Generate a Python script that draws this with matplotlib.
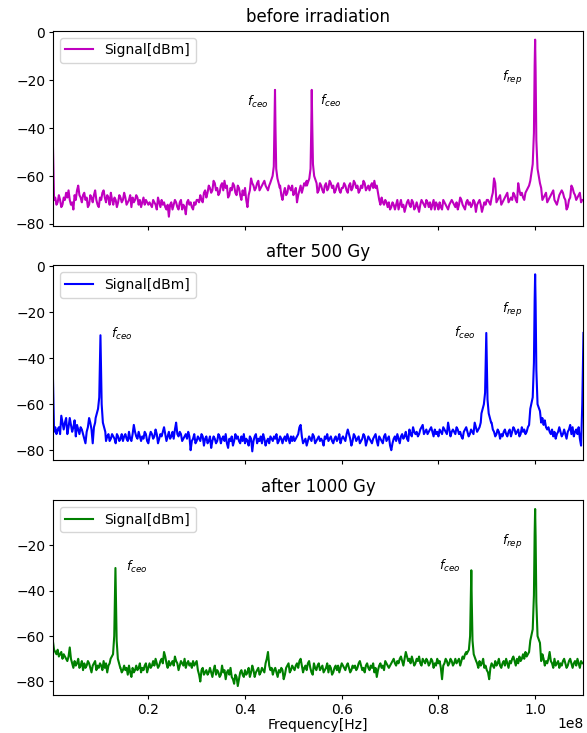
from matplotlib import pyplot as plt
import numpy as np

# frequency grid of the noise floor, MHz
freq_mhz = np.arange(1, 441) * 0.25

before = [
    -45, -70, -69, -72, -71, -68, -70, -73, -72, -69,
    -70, -67, -69, -66, -70, -72, -71, -74, -68, -70,
    -66, -64, -68, -69, -71, -68, -67, -70, -69, -73,
    -72, -68, -69, -71, -68, -66, -70, -72, -73, -69,
    -70, -67, -66, -69, -71, -68, -69, -72, -67, -70,
    -72, -69, -70, -73, -71, -68, -69, -71, -70, -67,
    -69, -72, -71, -70, -68, -73, -69, -71, -70, -68,
    -69, -72, -70, -73, -71, -69, -72, -70, -71, -72,
    -71, -72, -73, -70, -71, -72, -74, -69, -71, -73,
    -70, -72, -71, -73, -74, -72, -77, -72, -71, -74,
    -72, -70, -71, -73, -74, -71, -70, -74, -72, -73,
    -76, -71, -70, -72, -71, -73, -74, -71, -72, -70,
    -70, -71, -68, -70, -71, -67, -66, -69, -67, -64,
    -65, -67, -66, -62, -63, -66, -65, -68, -67, -64,
    -63, -66, -62, -65, -64, -69, -68, -65, -66, -63,
    -64, -67, -68, -64, -65, -68, -70, -66, -68, -65,
    -70, -73, -68, -66, -61, -63, -64, -66, -65, -63,
    -62, -66, -65, -64, -63, -62, -64, -65, -66, -64,
    -63, -62, -64, -63, -62, -61, -60, -61, -64, -68,
    -70, -67, -65, -68, -67, -64, -65, -66, -64, -68,
    -67, -65, -71, -68, -66, -64, -67, -65, -63, -64,
    -62, -63, -65, -61, -62, -60, -64, -66, -65, -67,
    -66, -63, -64, -66, -67, -64, -63, -66, -65, -62,
    -63, -65, -64, -67, -66, -64, -63, -66, -67, -65,
    -65, -63, -64, -66, -67, -64, -63, -66, -65, -62,
    -63, -65, -64, -67, -66, -64, -65, -62, -63, -66,
    -65, -64, -66, -64, -63, -65, -62, -65, -64, -67,
    -70, -72, -69, -71, -72, -70, -71, -73, -71, -74,
    -73, -71, -72, -74, -72, -70, -74, -72, -70, -73,
    -72, -75, -73, -71, -70, -72, -73, -70, -71, -74,
    -73, -71, -73, -75, -72, -70, -71, -72, -73, -70,
    -71, -73, -71, -74, -72, -70, -74, -71, -72, -74,
    -71, -73, -74, -70, -71, -72, -73, -74, -72, -71,
    -70, -71, -72, -73, -71, -74, -72, -69, -70, -72,
    -73, -74, -71, -70, -72, -71, -73, -72, -70, -71,
    -75, -72, -71, -70, -72, -75, -73, -71, -72, -70,
    -70, -71, -72, -69, -67, -61, -63, -71, -70, -69,
    -68, -72, -71, -70, -69, -68, -67, -71, -70, -69,
    -70, -67, -68, -70, -71, -63, -66, -68, -67, -69,
    -70, -67, -66, -65, -64, -63, -62, -63, -64, -62,
    -64, -62, -63, -66, -65, -70, -69, -68, -67, -71,
    -70, -69, -68, -67, -66, -70, -71, -72, -70, -68,
    -67, -66, -67, -69, -70, -74, -73, -70, -69, -64,
    -65, -67, -68, -70, -69, -68, -67, -71, -70, -70,
]
after500 = [
    -46, -72, -70, -73, -71, -70, -73, -65, -68, -71,
    -68, -66, -73, -70, -66, -69, -72, -70, -67, -74,
    -69, -71, -73, -70, -71, -73, -75, -77, -72, -70,
    -66, -68, -71, -77, -70, -68, -67, -66, -65, -64,
    -66, -68, -70, -79, -76, -74, -73, -76, -75, -73,
    -74, -75, -77, -73, -74, -76, -75, -73, -76, -74,
    -73, -75, -76, -72, -75, -76, -73, -69, -72, -74,
    -75, -72, -74, -76, -74, -75, -72, -73, -76, -77,
    -74, -72, -73, -75, -74, -71, -73, -77, -75, -73,
    -74, -72, -70, -73, -76, -74, -72, -75, -74, -72,
    -75, -71, -68, -73, -74, -72, -73, -76, -75, -74,
    -73, -75, -72, -74, -80, -76, -75, -73, -77, -76,
    -74, -75, -76, -73, -74, -78, -75, -74, -77, -76,
    -74, -79, -76, -74, -75, -77, -76, -73, -74, -77,
    -75, -74, -76, -73, -77, -79, -75, -76, -74, -78,
    -76, -73, -75, -74, -76, -77, -74, -76, -73, -77,
    -75, -76, -78, -74, -75, -80.5, -76, -74, -73, -77,
    -75, -76, -74, -77, -73, -75, -78, -76, -75, -77,
    -74, -75, -76, -74, -75, -73, -77, -76, -74, -75,
    -77, -75, -74, -76, -73, -75, -77, -74, -76, -74,
    -76, -75, -74, -73, -70, -69, -74, -77, -76, -75,
    -78, -76, -74, -75, -76, -73, -74, -77, -76, -75,
    -74, -76, -75, -76, -78, -74, -75, -73, -76, -75,
    -74, -76, -77, -75, -74, -76, -75, -73, -77, -75,
    -74, -75, -76, -73, -71, -73, -75, -78, -76, -73,
    -74, -76, -75, -74, -77, -76, -75, -73, -74, -78,
    -76, -74, -75, -76, -77, -75, -74, -73, -76, -78,
    -74, -75, -76, -77, -74, -73, -76, -75, -74, -78,
    -80, -77, -75, -74, -76, -73, -75, -77, -74, -73,
    -75, -74, -72, -75, -76, -71, -73, -74, -70, -72,
    -73, -72, -74, -73, -71, -70, -69, -73, -72, -71,
    -73, -72, -71, -70, -72, -74, -71, -73, -72, -74,
    -71, -72, -73, -70, -71, -72, -73, -68, -71, -74,
    -72, -71, -72, -73, -70, -71, -73, -72, -74, -75,
    -72, -71, -70, -72, -74, -73, -71, -72, -73, -68,
    -70, -72, -71, -70, -68, -66, -65, -64, -63, -62,
    -62, -64, -66, -68, -71, -72, -74, -73, -71, -72,
    -75, -73, -74, -72, -71, -73, -74, -72, -71, -74,
    -72, -70, -71, -73, -72, -71, -74, -73, -70, -72,
    -71, -73, -72, -70, -69, -68, -66, -64, -62, -60,
    -60, -63, -66, -70, -68, -66, -69, -67, -70, -71,
    -70, -72, -73, -71, -74, -72, -75, -73, -72, -70,
    -72, -74, -73, -71, -73, -75, -72, -71, -69, -73,
    -70, -74, -72, -71, -73, -70, -75, -78, -60, -29,
]
after1000 = [
    -62, -66, -67, -68, -66, -69, -68, -67, -70, -68,
    -69, -70, -71, -69, -65, -70, -72, -74, -71, -73,
    -72, -70, -74, -73, -71, -75, -72, -74, -73, -71,
    -72, -74, -76, -73, -72, -71, -75, -73, -74, -72,
    -73, -75, -71, -74, -72, -76, -73, -72, -74, -73,
    -71, -72, -70, -69, -68, -70, -74, -76, -75, -73,
    -75, -74, -77, -73, -76, -78, -74, -76, -75, -73,
    -75, -74, -72, -76, -74, -75, -73, -72, -76, -74,
    -72, -74, -73, -71, -73, -70, -72, -74, -73, -71,
    -70, -72, -67, -69, -72, -74, -71, -73, -72, -71,
    -73, -69, -71, -72, -75, -73, -71, -72, -73, -70,
    -74, -72, -71, -73, -72, -74, -71, -73, -72, -71,
    -75, -77, -80, -75, -74, -77, -76, -75, -77, -76,
    -74, -76, -78, -75, -73, -77, -75, -76, -78, -77,
    -73, -76, -75, -79, -76, -75, -77, -74, -78, -79,
    -81, -77, -78, -82, -79, -76, -75, -77, -78, -75,
    -77, -76, -74, -78, -76, -73, -75, -78, -76, -75,
    -74, -77, -76, -74, -75, -76, -72, -70, -67, -73,
    -75, -74, -77, -75, -74, -76, -78, -75, -76, -74,
    -75, -79, -77, -74, -73, -72, -76, -75, -73, -74,
    -75, -73, -72, -74, -71, -70, -73, -76, -74, -73,
    -75, -72, -71, -74, -76, -77, -72, -74, -75, -73,
    -72, -75, -74, -73, -76, -75, -74, -72, -76, -73,
    -74, -77, -76, -74, -73, -75, -73, -76, -74, -72,
    -73, -74, -75, -73, -72, -74, -76, -75, -73, -74,
    -73, -75, -74, -72, -71, -73, -75, -74, -76, -73,
    -72, -74, -75, -73, -74, -72, -76, -74, -78, -75,
    -73, -72, -74, -73, -75, -71, -72, -73, -74, -73,
    -72, -71, -70, -72, -73, -71, -72, -70, -69, -71,
    -73, -70, -67, -69, -71, -70, -72, -69, -71, -73,
    -72, -70, -71, -69, -72, -73, -70, -71, -72, -70,
    -71, -73, -72, -70, -71, -74, -72, -73, -70, -72,
    -71, -74, -79, -73, -72, -70, -71, -73, -72, -70,
    -71, -73, -72, -70, -72, -71, -70, -73, -71, -69,
    -70, -68, -67, -66, -65, -64, -64, -66, -68, -70,
    -70, -72, -74, -71, -73, -72, -70, -74, -73, -75,
    -76, -79, -74, -72, -73, -74, -71, -73, -72, -70,
    -73, -74, -72, -71, -73, -70, -72, -74, -71, -72,
    -70, -69, -71, -73, -70, -72, -69, -71, -70, -68,
    -70, -67, -69, -68, -67, -66, -65, -63, -62, -60,
    -60, -63, -66, -69, -71, -68, -70, -73, -71, -72,
    -70, -67, -71, -72, -74, -70, -73, -72, -71, -74,
    -72, -73, -71, -70, -72, -74, -73, -71, -70, -72,
    -74, -72, -71, -73, -70, -72, -74, -71, -72, -72,
]

# narrow beat-note peaks: centre (MHz) -> samples at peak_offsets (MHz)
peak_offsets = [-1.0, -0.5, -0.25, -0.1, 0.0, 0.1, 0.25, 0.5, 1.0]
peaks_before = {46.2: [-63, -60, -56, -38, -24, -40, -57, -61, -65],
                53.8: [-64, -61, -57, -40, -24, -38, -55, -60, -63],
                100.0: [-62, -55, -42, -14, -3, -16, -45, -57, -63]}
peaks_500 = {10.1: [-66, -62, -57, -42, -30, -42, -60, -68, -72],
             89.9: [-64, -60, -55, -40, -29, -41, -58, -64, -68],
             100.0: [-62, -57, -42, -15, -3.5, -16, -45, -60, -63]}
peaks_1000 = {13.2: [-70, -68, -60, -43, -30, -44, -62, -70, -74],
              86.8: [-68, -66, -60, -44, -31, -45, -62, -68, -71],
              100.0: [-62, -57, -42, -15, -4, -16, -45, -60, -63]}

labels_before = [(40.4, -29, r'$f_{ceo}$'), (55.5, -28.5, r'$f_{ceo}$'), (93.2, -19, r'$f_{rep}$')]
labels_500 = [(12.2, -29.5, r'$f_{ceo}$'), (83.3, -29, r'$f_{ceo}$'), (93.2, -19, r'$f_{rep}$')]
labels_1000 = [(15.3, -29.4, r'$f_{ceo}$'), (80.2, -29, r'$f_{ceo}$'), (93.2, -18.6, r'$f_{rep}$')]


def build(base, peaks):
    x = np.array(freq_mhz)
    y = np.array(base, dtype=float)
    keep = np.ones(len(x), dtype=bool)
    for c in peaks:
        keep &= np.abs(x - c) > 1.02
    px = [c + o for c in peaks for o in peak_offsets]
    py = [v for c in peaks for v in peaks[c]]
    x = np.concatenate([x[keep], px])
    y = np.concatenate([y[keep], py])
    order = np.argsort(x)
    return x[order] * 1e6, y[order]


fig, axes = plt.subplots(3, 1, sharex=True, figsize=(5.87, 7.33), dpi=100)
fig.subplots_adjust(left=0.09, right=0.994, top=0.958, bottom=0.052, hspace=0.205)

panels = [(before, peaks_before, labels_before, 'm', 'before irradiation'),
          (after500, peaks_500, labels_500, 'b', 'after 500 Gy'),
          (after1000, peaks_1000, labels_1000, 'g', 'after 1000 Gy')]

for axe, (base, peaks, labels, col, title) in zip(axes, panels):
    f, s = build(base, peaks)
    axe.plot(f, s, color=col, linewidth=1.5, label='Signal[dBm]')
    for xt, yt, txt in labels:
        axe.text(xt * 1e6, yt, txt, fontsize=9, ha='left', va='center')
    axe.set_title(title, fontsize=12)
    axe.legend(loc='upper left')
    axe.tick_params(length=3, pad=2.5)

axes[-1].set_xlim(freq_mhz[0] * 1e6, freq_mhz[-1] * 1e6)
axes[-1].set_xlabel('Frequency[Hz]', labelpad=1)
axes[-1].xaxis.OFFSETTEXTPAD = 0.5

plt.savefig('out.png')
